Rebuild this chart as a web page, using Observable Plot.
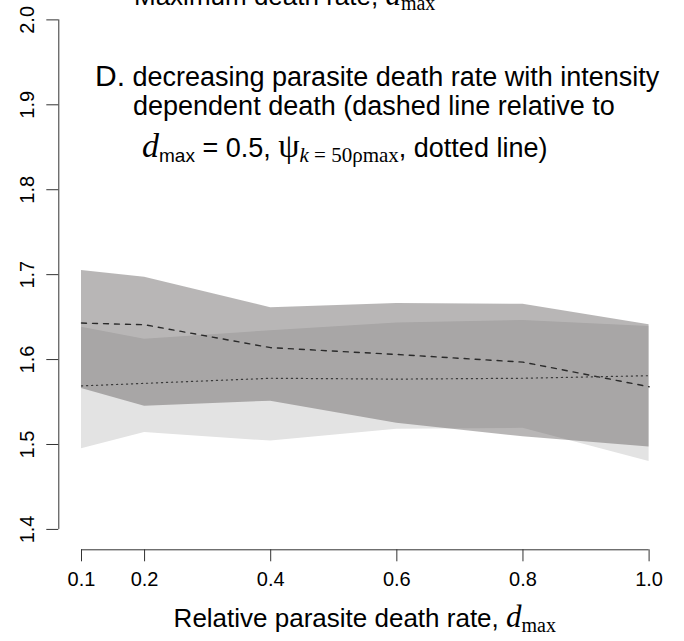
<!DOCTYPE html>
<html>
<head>
<meta charset="utf-8">
<script src="https://cdn.jsdelivr.net/npm/d3@7"></script>
<script src="https://cdn.jsdelivr.net/npm/@observablehq/plot@0.6"></script>
<style>
  body { margin: 0; background: #fff; }
  #chart { width: 684px; height: 641px; }
</style>
</head>
<body>
<div id="chart"></div>
<script>
// Relative parasite death rate (x) and mean outcome with envelope for two death models
const deathRate   = [0.1, 0.2, 0.4, 0.6, 0.8, 1.0];

// intensity-dependent death relative to d_max = 0.5 (dashed line, darker band)
const dashedMean  = [1.643, 1.641, 1.614, 1.606, 1.597, 1.568];
const dashedUpper = [1.705, 1.697, 1.661, 1.666, 1.665, 1.641];
const dashedLower = [1.566, 1.545, 1.551, 1.525, 1.509, 1.497];

// psi with k = 50 rho_max (dotted line, light band)
const dottedMean  = [1.569, 1.572, 1.578, 1.577, 1.578, 1.581];
const dottedUpper = [1.638, 1.624, 1.634, 1.643, 1.646, 1.639];
const dottedLower = [1.495, 1.514, 1.504, 1.518, 1.519, 1.480];

const xTicks = [0.1, 0.2, 0.4, 0.6, 0.8, 1.0];
const yTicks = [1.4, 1.5, 1.6, 1.7, 1.8, 1.9, 2.0];

// axis limits padded by 4% on each side, as base graphics does
const pad = ([lo, hi]) => [lo - 0.04 * (hi - lo), hi + 0.04 * (hi - lo)];
const xDom = pad([xTicks[0], xTicks[xTicks.length - 1]]);
const yDom = pad([yTicks[0], yTicks[yTicks.length - 1]]);

const rows = deathRate.map((d, i) => ({
  d,
  dashedMean: dashedMean[i], dashedUpper: dashedUpper[i], dashedLower: dashedLower[i],
  dottedMean: dottedMean[i], dottedUpper: dottedUpper[i], dottedLower: dottedLower[i]
}));

const sans = "'Liberation Sans', Arial, Helvetica, sans-serif";
const serif = "'Liberation Serif', 'Times New Roman', serif";

const plot = Plot.plot({
  width: 684,
  height: 641,
  marginLeft: 58.3,
  marginRight: 12.7,
  marginTop: 0,
  marginBottom: 91.7,
  x: { domain: xDom, label: null },
  y: { domain: yDom, range: [549.3, -1], label: null },
  style: { fontFamily: sans, background: "#fff", color: "#000" },
  marks: [
    Plot.areaY(rows, { x: "d", y1: "dottedLower", y2: "dottedUpper", fill: "#e3e3e3" }),
    Plot.areaY(rows, { x: "d", y1: "dashedLower", y2: "dashedUpper", fill: "#565252", fillOpacity: 0.42 }),
    Plot.lineY(rows, { x: "d", y: "dashedMean", stroke: "#2a2a2a", strokeWidth: 1.4, strokeDasharray: "5,6" }),
    Plot.lineY(rows, { x: "d", y: "dottedMean", stroke: "#3a3a3a", strokeWidth: 1.2, strokeDasharray: "1.2,3.8" }),
    // axis lines
    Plot.ruleX([xDom[0]], { y1: yTicks[0], y2: yTicks[yTicks.length - 1], stroke: "#333", strokeWidth: 1 }),
    Plot.ruleY([yDom[0]], { x1: xTicks[0], x2: xTicks[xTicks.length - 1], stroke: "#333", strokeWidth: 1 }),
    // tick marks
    Plot.axisY(yTicks, { anchor: "left", tickSize: 12, tickFormat: () => "", stroke: "#333", label: null }),
    Plot.axisX(xTicks, { anchor: "bottom", tickSize: 12, tickFormat: () => "", stroke: "#333", label: null }),
    // tick labels
    Plot.text(yTicks, {
      y: d => d, frameAnchor: "left", text: d => d.toFixed(1),
      rotate: -90, textAnchor: "middle", lineAnchor: "bottom", dx: -25,
      fontSize: 20, fill: "#000"
    }),
    Plot.text(xTicks, {
      x: d => d, frameAnchor: "bottom", text: d => d.toFixed(1),
      lineAnchor: "middle", dy: 30, fontSize: 20, fill: "#000"
    })
  ]
});

document.getElementById("chart").appendChild(plot);

// titles and annotation drawn as rich SVG text (subscripts, serif symbols)
const svg = d3.select(plot);

function richText(x, y, parts, anchor = "start") {
  const t = svg.append("text")
    .attr("x", x).attr("y", y)
    .attr("text-anchor", anchor)
    .attr("fill", "#000");
  let shift = 0;
  for (const p of parts) {
    const dy = (p.dy || 0) - shift;
    shift = p.dy || 0;
    t.append("tspan")
      .attr("dy", dy)
      .attr("font-family", p.serif ? serif : sans)
      .attr("font-style", p.italic ? "italic" : "normal")
      .attr("font-size", p.size)
      .style("white-space", "pre")
      .text(p.text);
  }
  return t;
}

// x-axis title of the panel above (clipped by the top edge)
richText(134, 5, [
  { text: "Maximum death rate, ", size: 26 },
  { text: "d", size: 31, serif: true, italic: true },
  { text: "max", size: 20, serif: true, dy: 5 }
]);

// panel annotation
richText(95, 86, [
  { text: "D.", size: 30 },
  { text: " decreasing parasite death rate with intensity", size: 27 }
]);
richText(133, 115, [
  { text: "dependent death (dashed line relative to", size: 27 }
]);
richText(142, 157, [
  { text: "d", size: 34, serif: true, italic: true },
  { text: "max", size: 19, dy: 5 },
  { text: " = 0.5, ", size: 27 },
  { text: "ψ", size: 34, serif: true },
  { text: "k", size: 21, serif: true, italic: true, dy: 5 },
  { text: " = 50ρmax", size: 21, serif: true, dy: 5 },
  { text: ", dotted line)", size: 27 }
]);

// x-axis title, centred on the plotting region
const xMid = (plot.getAttribute("width") - 12.7 + 58.3) / 2;
richText(xMid, 627, [
  { text: "Relative parasite death rate, ", size: 26 },
  { text: "d", size: 31, serif: true, italic: true },
  { text: "max", size: 20, serif: true, dy: 5 }
], "middle");
</script>
</body>
</html>
